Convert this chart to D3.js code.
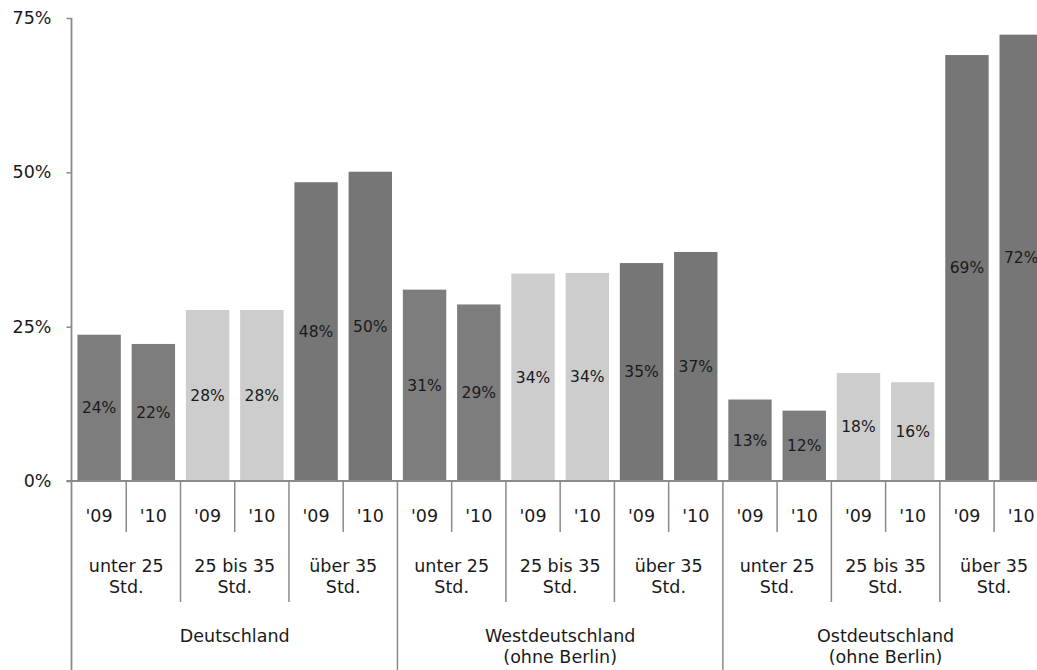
<!DOCTYPE html>
<html>
<head>
<meta charset="utf-8">
<script src="https://cdn.jsdelivr.net/npm/d3@7"></script>
<style>
  html, body { margin: 0; padding: 0; background: #fff; overflow: hidden; }
  svg { display: block; font-family: "DejaVu Sans", Verdana, sans-serif; }
</style>
</head>
<body>
<svg id="chart" width="1037" height="670"></svg>
<script>
// ---- data ----
const regions = [["Deutschland"], ["Westdeutschland", "(ohne Berlin)"], ["Ostdeutschland", "(ohne Berlin)"]];
const hourGroups = [["unter 25", "Std."], ["25 bis 35", "Std."], ["über 35", "Std."]];
const years = ["'09", "'10"];
const values = [
  23.7, 22.2, 27.7, 27.7, 48.4, 50.1,   // Deutschland
  31.0, 28.6, 33.6, 33.7, 35.3, 37.1,   // Westdeutschland
  13.2, 11.4, 17.5, 16.0, 69.0, 72.3    // Ostdeutschland
];
const valueLabels = ["24%", "22%", "28%", "28%", "48%", "50%", "31%", "29%", "34%", "34%", "35%", "37%", "13%", "12%", "18%", "16%", "69%", "72%"];
const yTicks = [0, 25, 50, 75];
const yTickLabels = ["0%", "25%", "50%", "75%"];

// ---- layout ----
const svg = d3.select("#chart");
const left = 72, slot = 54.24, nBars = values.length;
const y0 = 481, yTop = 18;
const textColor = "#1a1a1a";
const axisColor = "#8a8a8a";
const groupColors = ["#7d7d7d", "#cdcdcd", "#767676"];
const axisFont = 17.5, barFont = 15.5;

const idx = d3.range(nBars);
const x = d3.scaleBand().domain(idx).range([left, left + slot * nBars]).paddingInner(0.2).paddingOuter(0.1);
const y = d3.scaleLinear().domain([0, 75]).range([y0, yTop]);
const step = x.step();
const slotStart = i => left + i * step;

// bars
svg.append("g").selectAll("rect").data(idx).join("rect")
  .attr("x", i => x(i))
  .attr("y", i => y(values[i]))
  .attr("width", x.bandwidth())
  .attr("height", i => y(0) - y(values[i]))
  .attr("fill", i => groupColors[Math.floor(i / 2) % 3]);

// value labels
svg.append("g").selectAll("text").data(idx).join("text")
  .attr("x", i => x(i) + x.bandwidth() / 2)
  .attr("y", i => (y(values[i]) + y(0)) / 2)
  .attr("dy", "0.35em")
  .attr("text-anchor", "middle")
  .attr("font-size", barFont)
  .attr("fill", textColor)
  .text(i => valueLabels[i]);

// y axis
const yAxis = d3.axisLeft(y).tickValues(yTicks).tickFormat((d, i) => yTickLabels[i]).tickSize(5).tickPadding(15);
const gy = svg.append("g").attr("transform", `translate(${left - 0.5},0)`).call(yAxis);
gy.attr("font-family", null).attr("font-size", null);
gy.select(".domain").remove();
gy.selectAll(".tick line").attr("stroke", axisColor).attr("stroke-width", 1.5);
gy.selectAll(".tick text").attr("font-size", axisFont).attr("fill", textColor);

// axis lines
svg.append("line").attr("x1", left - 0.5).attr("x2", left - 0.5).attr("y1", yTop).attr("y2", 670)
  .attr("stroke", axisColor).attr("stroke-width", 1.8);
svg.append("line").attr("x1", left - 5.5).attr("x2", left + slot * nBars).attr("y1", y0).attr("y2", y0)
  .attr("stroke", axisColor).attr("stroke-width", 1.8);

// separators
const sep = svg.append("g").attr("stroke", axisColor).attr("stroke-width", 1.5);
d3.range(1, nBars + 1).forEach(b => {
  let yEnd;
  if (b % 6 === 0) yEnd = 670;
  else if (b % 2 === 0) yEnd = 602;
  else yEnd = 532;
  sep.append("line").attr("x1", slotStart(b)).attr("x2", slotStart(b)).attr("y1", y0).attr("y2", yEnd);
});

// year labels
svg.append("g").selectAll("text").data(idx).join("text")
  .attr("x", i => slotStart(i) + step / 2)
  .attr("y", 522)
  .attr("text-anchor", "middle")
  .attr("font-size", axisFont)
  .attr("fill", textColor)
  .text(i => years[i % 2]);

// hour group labels
const groupIdx = d3.range(nBars / 2);
const gl = svg.append("g").selectAll("text").data(groupIdx).join("text")
  .attr("text-anchor", "middle")
  .attr("font-size", axisFont)
  .attr("fill", textColor);
gl.each(function(g) {
  const lines = hourGroups[g % 3];
  const cx = slotStart(g * 2) + step;
  d3.select(this).selectAll("tspan").data(lines).join("tspan")
    .attr("x", cx)
    .attr("y", (d, k) => 572 + k * 21)
    .text(d => d);
});

// region labels
const rl = svg.append("g").selectAll("text").data(regions).join("text")
  .attr("text-anchor", "middle")
  .attr("font-size", axisFont)
  .attr("fill", textColor);
rl.each(function(lines, r) {
  const cx = slotStart(r * 6) + step * 3;
  d3.select(this).selectAll("tspan").data(lines).join("tspan")
    .attr("x", cx)
    .attr("y", (d, k) => 642 + k * 21)
    .text(d => d);
});
</script>
</body>
</html>
